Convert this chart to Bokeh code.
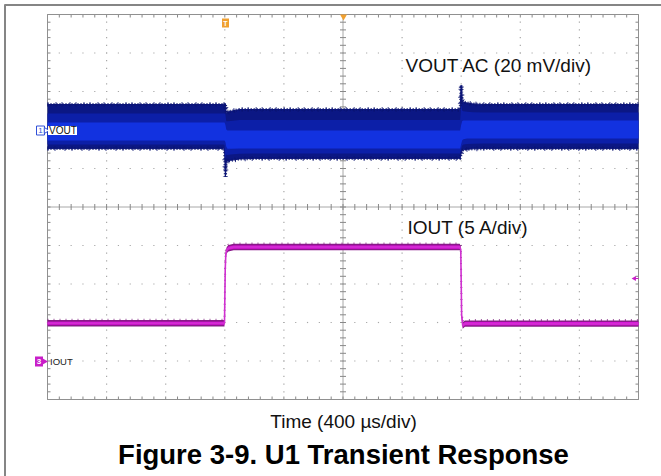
import numpy as np
from bokeh.plotting import figure
from bokeh.models import Range1d
from bokeh.core.properties import value
from bokeh.embed import file_html
from bokeh.resources import INLINE

# ---------------- data ----------------
US_PER_DIV = 400          # time base
MV_PER_DIV = 20           # VOUT AC scale
A_PER_DIV = 5             # IOUT scale

# VOUT (AC coupled) noise envelope, mV relative to channel reference
VOUT_T = [0, 1190, 1198, 1204, 1210, 1218, 1240, 1300, 1400, 2780, 2793, 2800, 2807, 2815, 2840, 2880, 2950, 4000]
VOUT_OUTER_TOP = [13.5, 13.5, 13.5, 14.0, 9.0, 9.5, 10.0, 10.9, 10.9, 10.9, 11.0, 23.5, 15.5, 14.8, 14.3, 13.8, 13.5, 13.5]
VOUT_OUTER_BOT = [-9.4, -9.4, -9.8, -24.0, -16.5, -16.0, -15.5, -14.8, -14.5, -14.5, -14.5, -12.0, -10.5, -10.0, -9.8, -9.5, -9.4, -9.4]
VOUT_INNER_TOP = [4.2, 4.2, 4.2, 3.0, 0.5, 0.0, 0.0, 0.0, 0.0, 0.0, 0.0, 3.0, 5.0, 5.2, 5.2, 5.2, 5.2, 5.2]
VOUT_INNER_BOT = [-5.2, -5.2, -5.2, -6.0, -8.5, -9.5, -9.5, -9.4, -9.4, -9.4, -9.4, -7.0, -5.0, -4.5, -4.2, -4.2, -4.2, -4.2]

# IOUT load step, A
IOUT_T = [0, 1198, 1203, 1207, 1213, 1225, 1260, 2790, 2797, 2803, 2810, 2825, 4000]
IOUT_A = [4.9, 4.9, 12.0, 13.9, 14.4, 14.65, 14.8, 14.8, 14.5, 6.0, 4.6, 4.85, 4.85]

# ---------------- layout helpers (page pixels -> data) ----------------
W, H = 661, 476
OFF = 0
GL, GR, GT, GB = 47.0, 638.0, 14.0, 399.0      # graticule edges on the page
NDIV_X, NDIV_Y = 10, 10
PX_PER_US = (GR - GL) / (NDIV_X * US_PER_DIV)
PX_PER_DIV_Y = (GB - GT) / NDIV_Y
CY = (GT + GB) / 2


def X(px):
    return (px - GL) / PX_PER_US


def Y(py):
    return (CY - py) / PX_PER_DIV_Y


VOUT_REF_DIV = Y(130)      # channel 1 reference marker
IOUT_REF_DIV = Y(360.5)    # channel 3 reference marker

p = figure(width=W, height=H, output_backend="svg", toolbar_location=None,
           x_range=Range1d(X(OFF), X(OFF + W)), y_range=Range1d(Y(OFF + H), Y(OFF)),
           x_axis_location=None, y_axis_location=None, min_border=0)
p.grid.visible = False
p.outline_line_color = None
p.background_fill_color = "white"
p.border_fill_color = "white"

FONT = value("Liberation Sans")

# outer document frame (left and top)
p.segment(x0=[X(4.5)], y0=[Y(4)], x1=[X(4.5)], y1=[Y(476)], line_color="#858585", line_width=2)
p.segment(x0=[X(4)], y0=[Y(4.5)], x1=[X(661)], y1=[Y(4.5)], line_color="#858585", line_width=2)

# ---------------- graticule ----------------
x_major = [i * US_PER_DIV for i in range(NDIV_X + 1)]
y_major = [-5 + i for i in range(NDIV_Y + 1)]
dot_x, dot_y = [], []
for i in range(1, NDIV_X):
    if i == 5:
        continue
    for k in range(NDIV_Y * 5 + 1):
        dot_x.append(x_major[i]); dot_y.append(-5 + k / 5)
for j in range(1, NDIV_Y):
    if j == 5:
        continue
    for k in range(NDIV_X * 5 + 1):
        dot_x.append(k * US_PER_DIV / 5); dot_y.append(y_major[j])
p.rect(x=dot_x, y=dot_y, width=1.2, height=1.2, width_units="screen", height_units="screen",
       fill_color="#a8a8a8", line_color=None)

# center cross
p.segment(x0=[0, 2000], y0=[0, -5], x1=[4000, 2000], y1=[0, 5], line_color="#a8a8a8", line_width=1)
tx = [k * US_PER_DIV / 5 for k in range(NDIV_X * 5 + 1)]
ty = [-5 + k / 5 for k in range(NDIV_Y * 5 + 1)]
tlen_y = 3 / PX_PER_DIV_Y
tlen_x = 3 / PX_PER_US
p.segment(x0=tx, y0=[-tlen_y] * len(tx), x1=tx, y1=[tlen_y] * len(tx), line_color="#888888", line_width=1)
p.segment(x0=[2000 - tlen_x] * len(ty), y0=ty, x1=[2000 + tlen_x] * len(ty), y1=ty, line_color="#888888", line_width=1)
# border ticks
p.segment(x0=tx, y0=[5] * len(tx), x1=tx, y1=[5 - tlen_y] * len(tx), line_color="#888888", line_width=1)
p.segment(x0=tx, y0=[-5] * len(tx), x1=tx, y1=[-5 + tlen_y] * len(tx), line_color="#888888", line_width=1)
p.segment(x0=[0] * len(ty), y0=ty, x1=[tlen_x] * len(ty), y1=ty, line_color="#888888", line_width=1)
p.segment(x0=[4000] * len(ty), y0=ty, x1=[4000 - tlen_x] * len(ty), y1=ty, line_color="#888888", line_width=1)
# border
p.segment(x0=[0, 0, 0, 4000], y0=[-5, 5, -5, -5], x1=[4000, 4000, 0, 4000], y1=[-5, 5, 5, 5],
          line_color="#909090", line_width=1)

# ---------------- VOUT trace ----------------
vt = np.array(VOUT_T, dtype=float)
vo_top = VOUT_REF_DIV + np.array(VOUT_OUTER_TOP) / MV_PER_DIV
vo_bot = VOUT_REF_DIV + np.array(VOUT_OUTER_BOT) / MV_PER_DIV
vi_top = VOUT_REF_DIV + np.array(VOUT_INNER_TOP) / MV_PER_DIV
vi_bot = VOUT_REF_DIV + np.array(VOUT_INNER_BOT) / MV_PER_DIV
p.varea(x=vt, y1=vo_bot, y2=vo_top, fill_color="#0b1784")
p.line(vt, vo_top, line_color="#0b1470", line_width=3, line_dash="1 2")
p.line(vt, vo_bot, line_color="#0b1470", line_width=3, line_dash="1 2")
p.line(vt, vo_top, line_color="#0b1470", line_width=5, line_dash="1 7 1 5", line_alpha=0.8)
p.line(vt, vo_bot, line_color="#0b1470", line_width=5, line_dash="1 6 1 9", line_alpha=0.8)
p.line(vt, vo_top, line_color="#0b1478", line_width=1)
p.line(vt, vo_bot, line_color="#0b1478", line_width=1)
p.varea(x=vt, y1=(vi_bot + vo_bot) / 2, y2=(vi_top + vo_top) / 2, fill_color="#0c1fa8")
p.varea(x=vt, y1=vi_bot, y2=vi_top, fill_color="#1232e0")

# ---------------- IOUT trace ----------------
it = np.array(IOUT_T, dtype=float)
iy = IOUT_REF_DIV + np.array(IOUT_A) / A_PER_DIV
p.varea(x=it, y1=iy - 3.2 / PX_PER_DIV_Y, y2=iy + 3.2 / PX_PER_DIV_Y, fill_color="#8a1a8a")
p.line(it, iy + 3.6 / PX_PER_DIV_Y, line_color="#7a187a", line_width=2, line_dash="1 5", line_alpha=0.7)
p.varea(x=it, y1=iy - 1.6 / PX_PER_DIV_Y, y2=iy + 1.6 / PX_PER_DIV_Y, fill_color="#dd10dd")
p.line(it, iy, line_color="#d030d0", line_width=1.6)

# ---------------- scope markers ----------------
# channel 1
p.rect(x=[X(40)], y=[Y(130)], width=8, height=9, width_units="screen", height_units="screen",
       fill_color="white", line_color="#3050d8", line_width=1)
p.text(x=[X(40)], y=[Y(130)], text=["1"], text_font=FONT, text_font_size="8px", text_color="#3050d8",
       text_align="center", text_baseline="middle")
p.scatter(x=[X(45.5)], y=[Y(130)], marker="triangle", angle=-np.pi / 2, size=6,
          fill_color="white", line_color="#3050d8")
p.rect(x=[X(62)], y=[Y(130)], width=29, height=9, width_units="screen", height_units="screen",
       fill_color="white", line_color=None)
p.text(x=[X(48.5)], y=[Y(130)], text=["VOUT"], text_font=FONT, text_font_size="10px", text_color="#111111",
       text_align="left", text_baseline="middle")
# channel 3
p.rect(x=[X(38.5)], y=[Y(361)], width=8, height=10, width_units="screen", height_units="screen",
       fill_color="#c81ec8", line_color=None)
p.text(x=[X(38.5)], y=[Y(361)], text=["3"], text_font=FONT, text_font_size="8px", text_color="white",
       text_font_style="bold", text_align="center", text_baseline="middle")
p.scatter(x=[X(44)], y=[Y(361)], marker="triangle", angle=-np.pi / 2, size=6,
          fill_color="#c81ec8", line_color=None)
p.text(x=[X(49.5)], y=[Y(361)], text=["IOUT"], text_font=FONT, text_font_size="9.5px", text_color="#222222",
       text_align="left", text_baseline="middle")
# trigger position / level
p.rect(x=[X(225)], y=[Y(22.5)], width=7, height=9, width_units="screen", height_units="screen",
       fill_color="#f0a030", line_color=None)
p.text(x=[X(225)], y=[Y(22.5)], text=["T"], text_font=FONT, text_font_size="7px", text_color="white",
       text_font_style="bold", text_align="center", text_baseline="middle")
p.scatter(x=[X(343)], y=[Y(16)], marker="inverted_triangle", size=7, fill_color="#f0a030", line_color=None)
p.scatter(x=[X(634)], y=[Y(278)], marker="triangle", angle=np.pi / 2, size=5, fill_color="#c81ec8", line_color=None)
p.segment(x0=[X(634)], y0=[Y(278)], x1=[X(638)], y1=[Y(278)], line_color="#c81ec8", line_width=1)

# ---------------- annotations ----------------
p.text(x=[X(405)], y=[Y(64.5)], text=["VOUT AC (20 mV/div)"], text_font=FONT, text_font_size="19px",
       text_color="#111111", text_align="left", text_baseline="alphabetic")
p.text(x=[X(407)], y=[Y(227)], text=["IOUT (5 A/div)"], text_font=FONT, text_font_size="19px",
       text_color="#111111", text_align="left", text_baseline="alphabetic")
p.text(x=[X(343)], y=[Y(421)], text=["Time (400 µs/div)"], text_font=FONT, text_font_size="19px",
       text_color="#111111", text_align="center", text_baseline="alphabetic")
p.text(x=[X(343)], y=[Y(454)], text=["Figure 3-9. U1 Transient Response"], text_font=FONT,
       text_font_size="27.5px", text_font_style="bold", text_color="#000000",
       text_align="center", text_baseline="alphabetic")

open("out.html", "w").write(file_html(p, INLINE))
